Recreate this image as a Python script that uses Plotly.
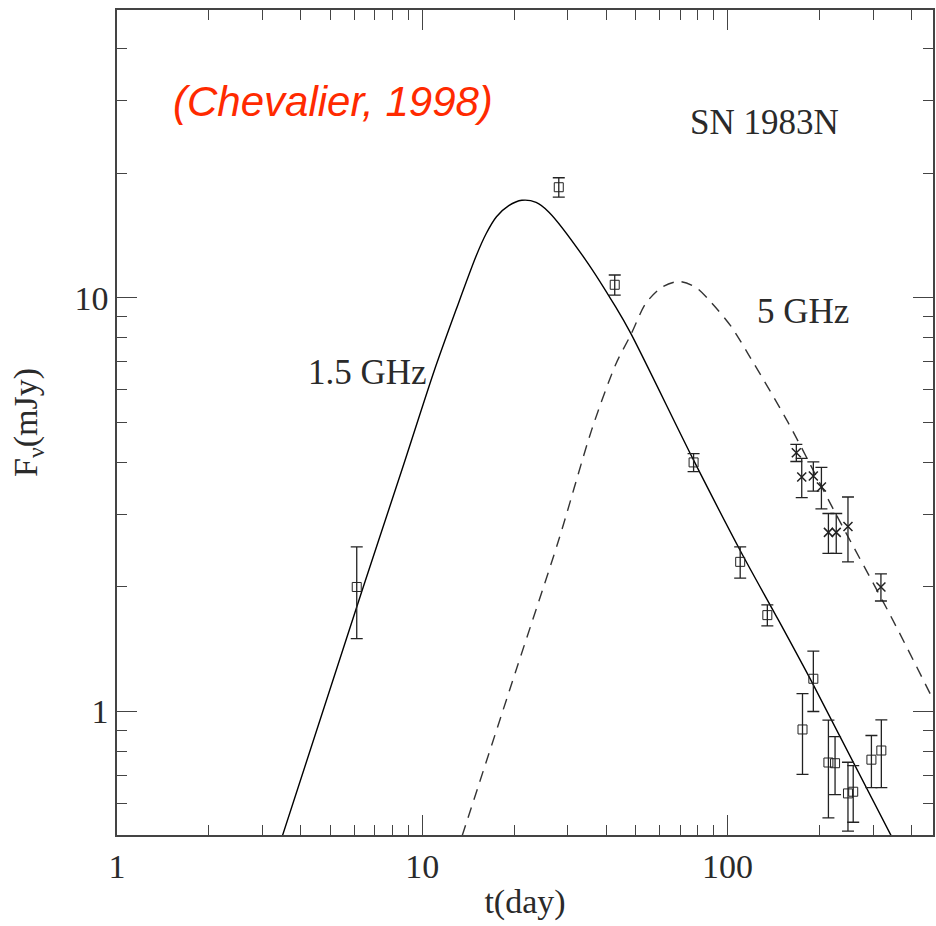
import plotly.graph_objects as go
import math

# ---- data ----
# 1.5 GHz observations (squares)
t15 = [6.1, 28.0, 42.7, 77.4, 110, 135, 176, 191, 214, 225, 248, 258, 296, 319]
f15 = [2.0, 18.5, 10.75, 4.0, 2.30, 1.71, 0.905, 1.20, 0.753, 0.75, 0.634, 0.64, 0.765, 0.805]
e15 = [0.5, 1.0, 0.6, 0.2, 0.2, 0.1, 0.2, 0.2, 0.2, 0.12, 0.12, 0.1, 0.11, 0.15]

# 5 GHz observations (crosses)
t5 = [168, 175, 191, 203, 214, 227, 248, 318]
f5 = [4.22, 3.69, 3.71, 3.49, 2.71, 2.71, 2.80, 2.0]
e5 = [0.2, 0.4, 0.3, 0.4, 0.3, 0.3, 0.5, 0.15]

# model curves
t15_model = [3.48, 6.32, 8.6, 10.95, 12.9, 15.0, 16.2, 17.5, 19.2, 21.2, 23.6, 26.0,
             34.4, 43.0, 48.2, 77.4, 111, 147, 191, 344]
f15_model = [0.5, 1.94, 3.86, 6.67, 9.35, 12.6, 14.3, 15.7, 16.7, 17.2, 17.0, 16.1,
             12.3, 9.5, 8.2, 4.05, 2.42, 1.66, 1.16, 0.5]

t5_model = [13.5, 20.3, 28.0, 35.9, 43.0, 48.2, 54.0, 60.9, 69.2, 78.6, 88.7, 103, 117,
            158, 227, 344, 471]
f5_model = [0.5, 1.26, 2.6, 4.8, 6.9, 8.14, 9.7, 10.6, 10.95, 10.6, 9.72, 8.5, 7.3,
            4.99, 2.99, 1.69, 1.07]

x_major = [1, 10, 100]
x_minor = [2, 3, 4, 5, 6, 7, 8, 9, 20, 30, 40, 50, 60, 70, 80, 90, 200, 300, 400]
y_major = [1, 10]
y_minor = [0.6, 0.7, 0.8, 0.9, 2, 3, 4, 5, 6, 7, 8, 9, 20, 30, 40]

INK = "#2a2a2a"
SERIF = "Liberation Serif"

fig = go.Figure()

fig.add_trace(go.Scatter(
    x=t15_model, y=f15_model, mode="lines",
    line=dict(color="black", width=1.4, shape="spline", smoothing=0.8),
    showlegend=False, hoverinfo="skip"))

fig.add_trace(go.Scatter(
    x=t5_model, y=f5_model, mode="lines",
    line=dict(color="#333333", width=1.4, dash="11px,8px", shape="spline", smoothing=0.8),
    showlegend=False, hoverinfo="skip"))

fig.add_trace(go.Scatter(
    x=t15, y=f15, mode="markers",
    marker=dict(symbol="square-open", size=9, color="#222222", line=dict(width=1)),
    error_y=dict(type="data", array=e15, visible=True, color="#222222", thickness=1.3, width=6),
    showlegend=False))

fig.add_trace(go.Scatter(
    x=t5, y=f5, mode="markers",
    marker=dict(symbol="x-thin-open", size=9, color="#222222", line=dict(width=1.5)),
    error_y=dict(type="data", array=e5, visible=True, color="#222222", thickness=1.3, width=6),
    showlegend=False))

axis_common = dict(
    type="log", showgrid=False, zeroline=False,
    showline=True, linecolor="#444444", linewidth=1.5, mirror="ticks",
    ticks="inside", ticklen=20, tickwidth=1.3, tickcolor="#444444",
    tickfont=dict(family=SERIF, size=34, color=INK),
)

fig.update_xaxes(
    **axis_common,
    range=[0, 2.673],
    tickvals=x_major, ticktext=[str(v) for v in x_major],
    minor=dict(tickvals=x_minor, ticks="inside", ticklen=10, tickwidth=1.2, tickcolor="#444444"),
    title=dict(text="t(day)", font=dict(family=SERIF, size=34, color=INK), standoff=6),
)
fig.update_yaxes(
    **axis_common,
    range=[math.log10(0.503), math.log10(49.6)],
    tickvals=y_major, ticktext=[str(v) for v in y_major],
    minor=dict(tickvals=y_minor, ticks="inside", ticklen=10, tickwidth=1.2, tickcolor="#444444"),
    title=dict(text="F<sub>ν</sub>(mJy)", font=dict(family=SERIF, size=34, color=INK), standoff=27),
)

fig.add_annotation(x=0.2647, y=0.8885, xref="paper", yref="paper", showarrow=False,
                   xanchor="center", yanchor="middle",
                   text="<i>(Chevalier, 1998)</i>",
                   font=dict(family="Liberation Sans", size=42, color="#FF2A00"))
fig.add_annotation(x=0.794, y=0.864, xref="paper", yref="paper", showarrow=False,
                   xanchor="center", yanchor="middle",
                   text="SN 1983N", font=dict(family=SERIF, size=35, color=INK))
fig.add_annotation(x=0.307, y=0.561, xref="paper", yref="paper", showarrow=False,
                   xanchor="center", yanchor="middle",
                   text="1.5 GHz", font=dict(family=SERIF, size=35, color=INK))
fig.add_annotation(x=0.841, y=0.634, xref="paper", yref="paper", showarrow=False,
                   xanchor="center", yanchor="middle",
                   text="5 GHz", font=dict(family=SERIF, size=35, color=INK))

fig.update_layout(
    width=936, height=926,
    margin=dict(l=117, r=1, t=10, b=91, pad=0),
    paper_bgcolor="white", plot_bgcolor="white",
)

fig.write_html("out.html")
